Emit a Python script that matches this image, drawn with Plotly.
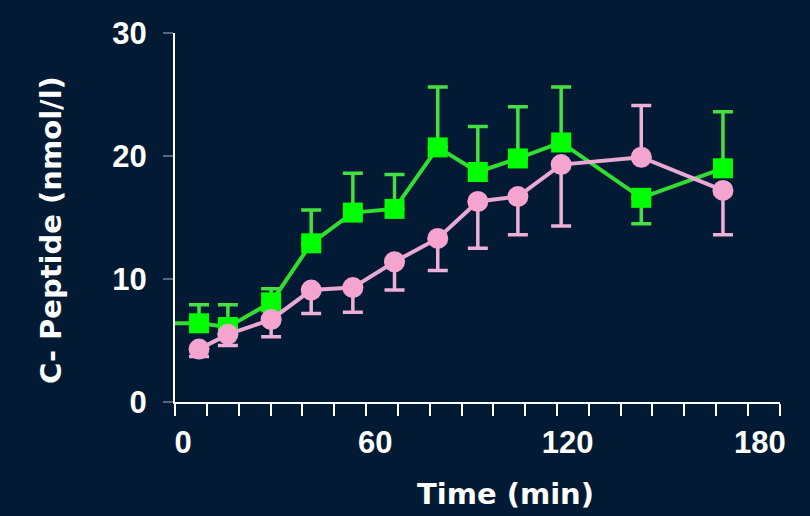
import plotly.graph_objects as go

# ---- data ----
times = [5, 14, 27.5, 40, 53, 66, 79.5, 92, 104.5, 118, 143, 168.5]

green_pre_time = [-10]
green_pre_value = [6.4]
green_mean = [6.4, 6.1, 8.1, 12.9, 15.4, 15.7, 20.7, 18.7, 19.8, 21.1, 16.6, 19.0]
green_err_up = [1.5, 1.8, 1.1, 2.7, 3.2, 2.8, 4.9, 3.7, 4.2, 4.5, 0, 4.6]
green_err_down = [0, 0, 0, 0, 0, 0, 0, 0, 0, 0, 2.1, 0]

pink_mean = [4.3, 5.5, 6.7, 9.1, 9.3, 11.4, 13.3, 16.3, 16.7, 19.3, 19.9, 17.2]
pink_err_up = [0, 0, 0, 0, 0, 0, 0, 0, 0, 0, 4.2, 0]
pink_err_down = [0.6, 0.9, 1.4, 1.9, 2.0, 2.3, 2.6, 3.8, 3.1, 5.0, 0, 3.6]

x_tick_vals = [0, 60, 120, 180]
x_tick_text = ["0", "60", "120", "180"]
y_tick_vals = [0, 10, 20, 30]
y_tick_text = ["0", "10", "20", "30"]

x_title = "Time (min)"
y_title = "C- Peptide (nmol/l)"

# ---- styles ----
BG = "#021a33"
GREEN_MARK = "#00ff00"
GREEN_LINE = "#33dd33"
GREEN_ERR = "#44e044"
PINK_MARK = "#f5a3cf"
PINK_LINE = "#e9a9d4"
PINK_ERR = "#ecb0d9"

fig = go.Figure()

fig.add_trace(go.Scatter(
    x=green_pre_time + times,
    y=green_pre_value + green_mean,
    mode="lines+markers",
    line=dict(color=GREEN_LINE, width=4),
    marker=dict(symbol="square", size=20, color=GREEN_MARK, line=dict(width=0)),
    error_y=dict(type="data", symmetric=False,
                 array=[0] + green_err_up, arrayminus=[0] + green_err_down,
                 color=GREEN_ERR, thickness=3.5, width=10),
    cliponaxis=True,
    hoverinfo="x+y",
))

fig.add_trace(go.Scatter(
    x=times,
    y=pink_mean,
    mode="lines+markers",
    line=dict(color=PINK_LINE, width=4),
    marker=dict(symbol="circle", size=21, color=PINK_MARK, line=dict(width=0)),
    error_y=dict(type="data", symmetric=False,
                 array=pink_err_up, arrayminus=pink_err_down,
                 color=PINK_ERR, thickness=3.5, width=10),
    cliponaxis=True,
    hoverinfo="x+y",
))

tick_font = dict(family="Liberation Sans, Arial, sans-serif", size=31, color="white", weight="bold")
title_font = dict(family="DejaVu Sans, sans-serif", size=29, color="white", weight="bold")

fig.update_layout(
    width=810, height=516,
    paper_bgcolor=BG, plot_bgcolor=BG,
    margin=dict(l=175, r=30, t=33, b=114),
    showlegend=False,
    xaxis=dict(
        range=[-2.5, 186.3],
        tickmode="array", tickvals=x_tick_vals, ticktext=x_tick_text,
        ticks="outside", ticklen=12, tickcolor="rgba(0,0,0,0)",
        tickfont=tick_font,
        showline=True, linecolor="white", linewidth=2,
        showgrid=False, zeroline=False,
        minor=dict(ticks="outside", ticklen=12, tickwidth=2, tickcolor="white",
                   tick0=-2.45, dtick=9.93, showgrid=False),
    ),
    yaxis=dict(
        range=[0, 30],
        tickmode="array", tickvals=y_tick_vals, ticktext=y_tick_text,
        ticks="outside", ticklen=10, tickwidth=2, tickcolor="#56667c",
        tickfont=tick_font, ticklabelstandoff=10,
        showline=True, linecolor="white", linewidth=2,
        showgrid=False, zeroline=False,
    ),
    annotations=[
        dict(text=x_title, font=title_font, showarrow=False,
             xref="paper", yref="paper", x=(505 - 175) / 605, y=-(494 - 402) / 369,
             xanchor="center", yanchor="middle"),
        dict(text=y_title, font=title_font, showarrow=False, textangle=-90,
             xref="paper", yref="paper", x=-(175 - 51) / 605, y=(402 - 230) / 369,
             xanchor="center", yanchor="middle"),
    ],
)

fig.write_html(
    "out.html",
    config={"displayModeBar": False},
    post_script="document.body.style.margin='0';document.body.style.background='%s';" % BG,
)
